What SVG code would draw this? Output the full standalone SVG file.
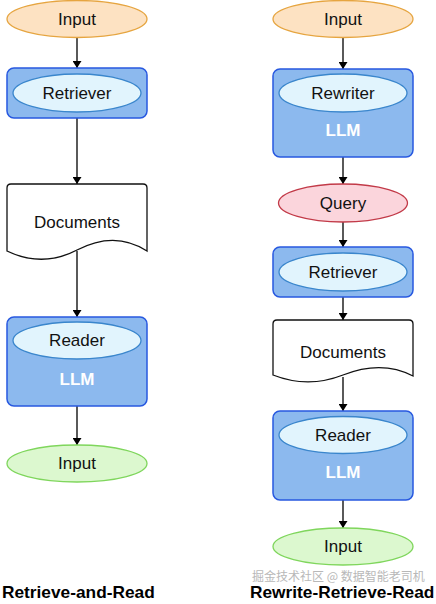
<svg xmlns="http://www.w3.org/2000/svg" width="436" height="604" viewBox="0 0 436 604">
<defs>
<marker id="ah" viewBox="0 0 10 10" refX="10" refY="5" markerWidth="7" markerHeight="9" markerUnits="userSpaceOnUse" orient="auto" preserveAspectRatio="none">
<path d="M0,0 L10,5 L0,10 Z" fill="#000"/>
</marker>
</defs>
<style>
text{font-family:"Liberation Sans",Arial,sans-serif;font-size:17px;text-anchor:middle;dominant-baseline:central;fill:#111}
.in{fill:#fde2c2;stroke:#e6a540;stroke-width:1.3}
.out{fill:#dcf8cf;stroke:#7fd65c;stroke-width:1.3}
.q{fill:#fbd5dc;stroke:#c23a48;stroke-width:1.3}
.box{fill:#8cb9ee;stroke:#2758e0;stroke-width:1.5}
.inner{fill:#e1f4fd;stroke:#3a86cc;stroke-width:1.3}
.doc{fill:#fff;stroke:#111;stroke-width:1.3}
.llm{fill:#fff;font-weight:bold}
.title{font-weight:bold;font-size:17.3px;text-anchor:start;fill:#000}
.wm{font-family:"Noto Sans CJK SC",sans-serif;font-size:12px;fill:#b8b8b8;text-anchor:start}
.c line{stroke:#000;stroke-width:1.3;marker-end:url(#ah)}
</style>
<g class="c" id="connectors">
<line x1="77" y1="38" x2="77" y2="68"/>
<line x1="77" y1="118" x2="77" y2="184"/>
<line x1="77" y1="251" x2="77" y2="317"/>
<line x1="77" y1="406" x2="77" y2="445"/>
<line x1="343" y1="38" x2="343" y2="69"/>
<line x1="343" y1="157" x2="343" y2="184"/>
<line x1="343" y1="222" x2="343" y2="247"/>
<line x1="343" y1="297" x2="343" y2="320"/>
<line x1="343" y1="377" x2="343" y2="411"/>
<line x1="343" y1="500" x2="343" y2="528"/>
</g>
<g id="l-input"><ellipse class="in" cx="77" cy="19" rx="70" ry="18.5"/><text x="77" y="19">Input</text></g>
<g id="l-retriever"><rect class="box" x="7" y="68" width="140" height="50" rx="7"/><ellipse class="inner" cx="77" cy="93" rx="64" ry="19"/><text x="77" y="93">Retriever</text></g>
<g id="l-documents"><path class="doc" d="M7,188 Q7,184 11,184 H143 Q147,184 147,188 V251 C124,236 100,238 77,250 C54,262 30,262 7,251 Z"/><text x="77" y="222">Documents</text></g>
<g id="l-reader"><rect class="box" x="7" y="317" width="140" height="89" rx="7"/><ellipse class="inner" cx="77" cy="340.5" rx="64" ry="18.5"/><text x="77" y="340.5">Reader</text><text class="llm" x="77" y="379">LLM</text></g>
<g id="l-output"><ellipse class="out" cx="77" cy="463.5" rx="70" ry="18.5"/><text x="77" y="463.5">Input</text></g>
<g id="r-input"><ellipse class="in" cx="343" cy="19" rx="70" ry="18.5"/><text x="343" y="19">Input</text></g>
<g id="r-rewriter"><rect class="box" x="273" y="69" width="140" height="88" rx="7"/><ellipse class="inner" cx="343" cy="93" rx="64" ry="19"/><text x="343" y="93">Rewriter</text><text class="llm" x="343" y="130">LLM</text></g>
<g id="r-query"><ellipse class="q" cx="343" cy="203" rx="64.5" ry="19"/><text x="343" y="203">Query</text></g>
<g id="r-retriever"><rect class="box" x="273" y="247" width="140" height="50" rx="7"/><ellipse class="inner" cx="343" cy="272" rx="64" ry="19"/><text x="343" y="272">Retriever</text></g>
<g id="r-documents"><path class="doc" d="M273,324 Q273,320 277,320 H409 Q413,320 413,324 V376 C390,364 366,366 343,375 C320,384 296,384 273,375 Z"/><text x="343" y="352">Documents</text></g>
<g id="r-reader"><rect class="box" x="273" y="411" width="140" height="89" rx="7"/><ellipse class="inner" cx="343" cy="435" rx="64" ry="18.5"/><text x="343" y="435">Reader</text><text class="llm" x="343" y="472">LLM</text></g>
<g id="r-output"><ellipse class="out" cx="343" cy="546.5" rx="70" ry="18.5"/><text x="343" y="546.5">Input</text></g>
<text class="wm" x="252" y="575">掘金技术社区 @ 数据智能老司机</text>
<text class="title" x="2" y="592">Retrieve-and-Read</text>
<text class="title" x="250" y="592">Rewrite-Retrieve-Read</text>
</svg>
